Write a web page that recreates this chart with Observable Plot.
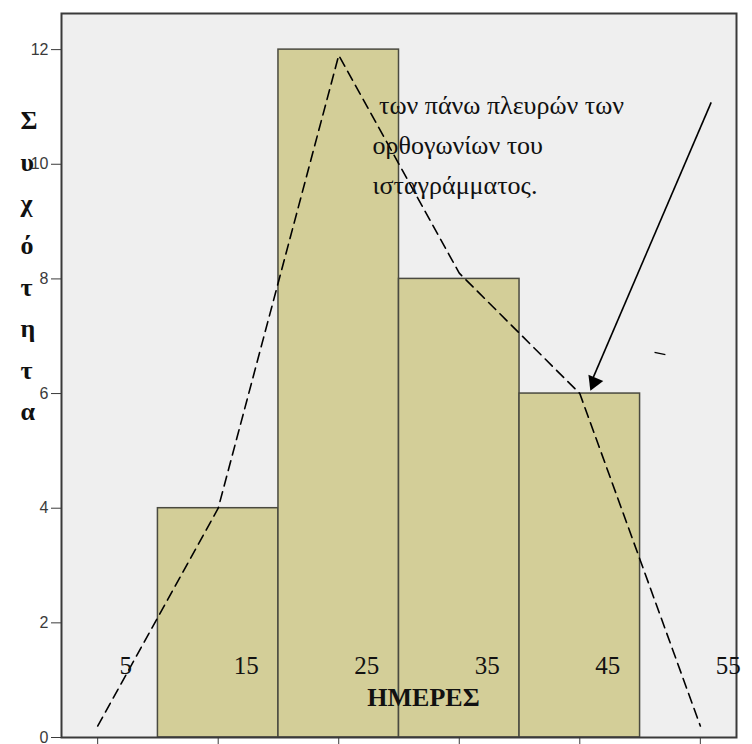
<!DOCTYPE html>
<html>
<head>
<meta charset="utf-8">
<script src="https://cdn.jsdelivr.net/npm/d3@7"></script>
<script src="https://cdn.jsdelivr.net/npm/@observablehq/plot@0.6"></script>
<style>
  html, body { margin: 0; padding: 0; background: #fff; }
  svg { display: block; }
</style>
</head>
<body>
<div id="chart"></div>
<script>
// ---- data ----
const binStart = [10, 20, 30, 40];
const binEnd = [20, 30, 40, 50];
const counts = [4, 12, 8, 6];
const midpoints = [5, 15, 25, 35, 45, 55];
const polygonValues = [0.2, 4, 11.9, 8.1, 6, 0.2];
const yTicks = [0, 2, 4, 6, 8, 10, 12];
const xTicks = [5, 15, 25, 35, 45, 55];
const xTickLabels = ["5", "15", "25", "35", "45", "55"];
const xTitle = "ΗΜΕΡΕΣ";
const yTitleLetters = ["Σ", "υ", "χ", "ό", "τ", "η", "τ", "α"];
const noteLines = [" των πάνω πλευρών των", "ορθογωνίων του", "ισταγράμματος."];

const bars = binStart.map((s, i) => ({x1: s, x2: binEnd[i], y: counts[i]}));
const polygon = midpoints.map((m, i) => ({x: m, y: polygonValues[i]}));

const serif = "'Liberation Serif', 'Times New Roman', serif";
const sans = "'Liberation Sans', Arial, sans-serif";

const chart = Plot.plot({
  width: 752,
  height: 744,
  marginLeft: 61,
  marginRight: 16,
  marginTop: 13,
  marginBottom: 7,
  x: {domain: [2, 58], axis: null},
  y: {domain: [0, 12.63], axis: null},
  style: {background: "#fff", overflow: "visible"},
  marks: [
    Plot.frame({fill: "#efefef"}),
    Plot.rectY(bars, {x1: "x1", x2: "x2", y: "y", fill: "#d3ce98", stroke: "#4a4a40", strokeWidth: 1.5}),
    Plot.line(polygon, {x: "x", y: "y", stroke: "#000", strokeWidth: 1.6, strokeDasharray: "10,6"}),
    Plot.frame({stroke: "#3a3a3a", strokeWidth: 2}),
    Plot.axisY(yTicks, {tickSize: 10, tickFormat: () => "", color: "#3a3a3a", label: null}),
    Plot.text(yTicks, {y: d => d, frameAnchor: "left", dx: -13, textAnchor: "end", fontSize: 16, fontFamily: sans, fill: "#3a3a3a"}),
    Plot.axisX(xTicks, {tickSize: 10, tickFormat: () => "", color: "#3a3a3a", label: null}),
    Plot.text(xTickLabels, {x: (d, i) => xTicks[i], y: 1.25, dx: 28, fontSize: 25, fontFamily: serif, fill: "#111"}),
    Plot.text([xTitle], {x: 32.03, y: 0.7, fontSize: 26, fontWeight: "bold", fontFamily: serif, fill: "#111"}),
    Plot.text([yTitleLetters.join("\n")], {frameAnchor: "left", dx: -41, dy: -114, lineHeight: 1.6, fontSize: 26, fontWeight: "bold", fontFamily: serif, fill: "#111"}),
    Plot.text([noteLines.join("\n")], {x: 27.8, y: 11.37, lineAnchor: "top", textAnchor: "start", lineHeight: 1.54, fontSize: 26, fontFamily: serif, fill: "#111"}),
    Plot.link([{x1: 55.9, y1: 11.08, x2: 45.95, y2: 6.2}], {x1: "x1", y1: "y1", x2: "x2", y2: "y2", stroke: "#000", strokeWidth: 1.6}),
    Plot.dot([{x: 45.88, y: 6.05}], {x: "x", y: "y", symbol: "triangle", r: 6, rotate: 203, fill: "#000", stroke: "none", dx: 3.6, dy: -8.6}),
    Plot.link([{x1: 51.2, y1: 6.72, x2: 52.1, y2: 6.68}], {x1: "x1", y1: "y1", x2: "x2", y2: "y2", stroke: "#000", strokeWidth: 1.3})
  ]
});
document.getElementById("chart").appendChild(chart);
</script>
</body>
</html>
